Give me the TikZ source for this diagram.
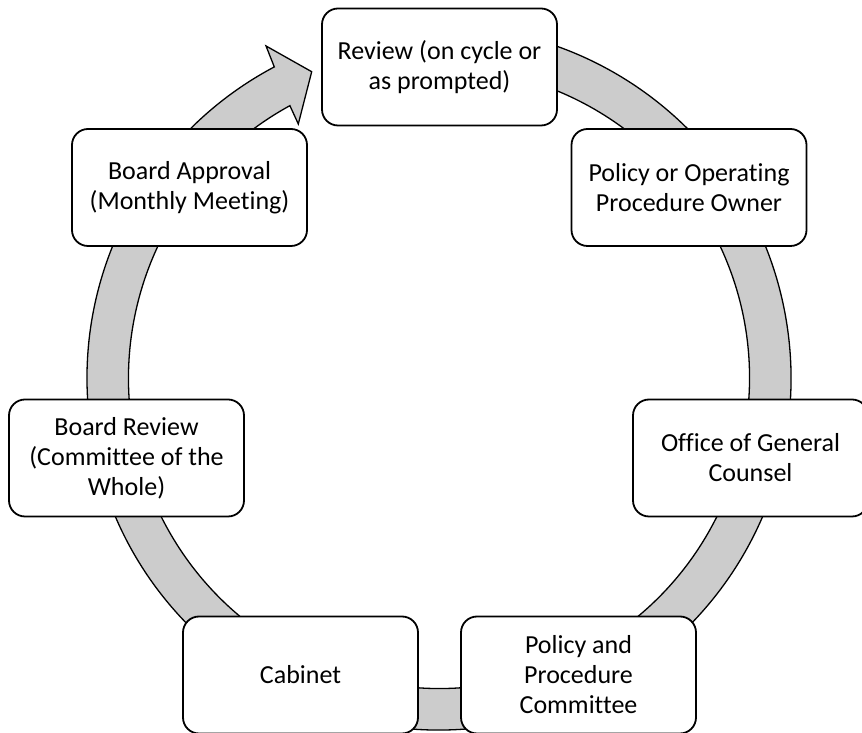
\documentclass[tikz,border=0pt]{standalone}
\usepackage{fontspec}
\setmainfont{Carlito}[RawFeature={-liga;-clig;-dlig;-calt}]
\definecolor{ringgray}{RGB}{204,204,204}
\begin{document}
\begin{tikzpicture}[x=1pt,y=1pt,
  stagebox/.style={draw=black, line width=1.8pt, fill=white, rounded corners=16pt,
    minimum width=235pt, minimum height=117pt, inner sep=0pt, align=center,
    font=\fontsize{26}{30}\selectfont},
  ring/.style={draw=black, line width=1.3pt, fill=ringgray, line join=miter}]
\useasboundingbox (0,0) rectangle (862,733);
% circular arrow band, centred on the cycle
\begin{scope}[shift={(439,355)}]
  \draw[ring] (100:352) arc[start angle=100, end angle=-242.1, radius=352]
    -- (117.52:374.4) -- (112.57:331.7) -- (118.98:290.4) -- (-241.3:310.5)
    arc[start angle=-241.3, end angle=100, radius=310.5] -- cycle;
\end{scope}
% stages of the cycle
\node[stagebox] (review)   at (439.5,666) {Review (on cycle or\\as prompted)};
\node[stagebox] (owner)    at (689,545.5) {Policy or Operating\\Procedure Owner};
\node[stagebox] (counsel)  at (750.5,275) {Office of General\\Counsel};
\node[stagebox] (ppc)      at (578.5,58)  {Policy and\\Procedure\\Committee};
\node[stagebox] (cabinet)  at (300.5,58)  {Cabinet};
\node[stagebox] (breview)  at (126.5,275) {Board Review\\(Committee of the\\Whole)};
\node[stagebox] (approval) at (189.5,545.5) {Board Approval\\(Monthly Meeting)};
\end{tikzpicture}
\end{document}
